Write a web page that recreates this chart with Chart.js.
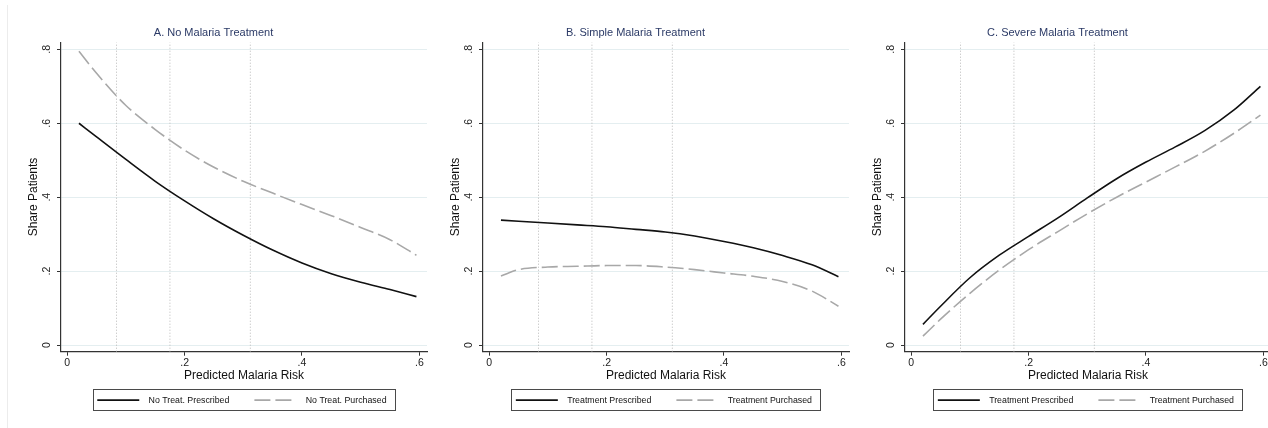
<!DOCTYPE html>
<html><head><meta charset="utf-8">
<script src="https://cdn.jsdelivr.net/npm/chart.js@4.4.1/dist/chart.umd.min.js"></script>
<style>
html,body{margin:0;padding:0;background:#fff;width:1268px;height:428px;overflow:hidden;}
#wrap{position:relative;width:1268px;height:428px;overflow:hidden;background:#fff;}
canvas{position:absolute;top:0;}
#frame{position:absolute;left:7px;top:5px;width:0;height:423px;border-left:1px solid #ececec;}
</style></head><body>
<div id="wrap">
<div id="frame"></div>
<canvas id="cA" width="488" height="428" style="left:0px"></canvas>
<canvas id="cB" width="488" height="428" style="left:422px"></canvas>
<canvas id="cC" width="488" height="428" style="left:844px"></canvas>
</div>
<script>
// ---- data ----
const riskGrid = [0.02, 0.05, 0.10, 0.15, 0.20, 0.25, 0.30, 0.35, 0.40, 0.45, 0.50, 0.55, 0.595];

const noTreatPrescribed = [0.600, 0.563, 0.502, 0.443, 0.390, 0.341, 0.297, 0.257, 0.222, 0.193, 0.170, 0.150, 0.131];
const noTreatPurchased  = [0.795, 0.735, 0.648, 0.583, 0.527, 0.481, 0.443, 0.411, 0.380, 0.350, 0.318, 0.285, 0.243];

const simplePrescribed  = [0.338, 0.335, 0.330, 0.325, 0.320, 0.313, 0.306, 0.295, 0.280, 0.263, 0.242, 0.217, 0.185];
const simplePurchased   = [0.187, 0.204, 0.211, 0.213, 0.215, 0.215, 0.211, 0.204, 0.195, 0.186, 0.172, 0.146, 0.105];

const severePrescribed  = [0.056, 0.105, 0.182, 0.243, 0.294, 0.344, 0.398, 0.450, 0.495, 0.536, 0.580, 0.636, 0.700];
const severePurchased   = [0.024, 0.070, 0.140, 0.203, 0.258, 0.307, 0.355, 0.400, 0.441, 0.482, 0.524, 0.573, 0.622];

const riskCutoffs = [0.084, 0.175, 0.312];
const xTickValues = [0, 0.2, 0.4, 0.6];
const yTickValues = [0, 0.2, 0.4, 0.6, 0.8];
const xRange = [-0.0106, 0.613];
const yRange = [-0.018, 0.819];

const panelTitles = ['A. No Malaria Treatment', 'B. Simple Malaria Treatment', 'C. Severe Malaria Treatment'];
const seriesLabels = [
  ['No Treat. Prescribed', 'No Treat. Purchased'],
  ['Treatment Prescribed', 'Treatment Purchased'],
  ['Treatment Prescribed', 'Treatment Purchased']
];
const xTitle = 'Predicted Malaria Risk';
const yTitle = 'Share Patients';

// ---- rendering ----
const FONT = '"Liberation Sans", Arial, Helvetica, sans-serif';
Chart.defaults.font.family = FONT;

const fmt = v => { if (Math.abs(v) < 1e-9) return '0'; return String(+(+v).toFixed(1)).replace(/^0\./, '.'); };

const boxedLegend = {
  id: 'boxedLegend',
  afterDraw(chart) {
    const ctx = chart.ctx, ca = chart.chartArea;
    const items = chart.data.datasets.filter(d => d.inLegend);
    const fs = 8.8;
    ctx.save();
    ctx.font = fs + 'px ' + FONT;
    const sw = 42, gapT = 9.3, gapI = 25, padL = 4.5, padR = 8.7;
    const widths = items.map(d => ctx.measureText(d.label).width);
    const total = padL + padR + items.length * (sw + gapT) + widths.reduce((a, b) => a + b, 0) + gapI * (items.length - 1);
    const cx = (ca.left + ca.right) / 2;
    const x0 = cx - total / 2, y0 = ca.bottom + 37.6, h = 20.7;
    ctx.strokeStyle = '#4a4a4a'; ctx.lineWidth = 1;
    ctx.strokeRect(Math.round(x0) + 0.5, Math.round(y0) + 0.5, Math.round(total), Math.round(h));
    let x = x0 + padL; const ym = y0 + h / 2 + 0.5;
    items.forEach((d, i) => {
      ctx.beginPath();
      ctx.setLineDash(d.borderDash || []);
      ctx.strokeStyle = d.borderColor; ctx.lineWidth = d.borderWidth;
      ctx.moveTo(x, ym); ctx.lineTo(x + sw, ym); ctx.stroke();
      ctx.setLineDash([]);
      x += sw + gapT;
      ctx.fillStyle = '#111'; ctx.textBaseline = 'middle'; ctx.textAlign = 'left';
      ctx.fillText(d.label, x, ym);
      x += widths[i] + gapI;
    });
    ctx.restore();
  }
};

function makePanel(id, title, labels, solid, dashed) {
  const datasets = [
    { label: labels[0], inLegend: true, data: riskGrid.map((x, i) => ({ x, y: solid[i] })),
      borderColor: '#111', borderWidth: 1.6, pointRadius: 0, cubicInterpolationMode: 'monotone', fill: false },
    { label: labels[1], inLegend: true, data: riskGrid.map((x, i) => ({ x, y: dashed[i] })),
      borderColor: '#a8a8a8', borderWidth: 1.6, borderDash: [16, 5], pointRadius: 0, cubicInterpolationMode: 'monotone', fill: false }
  ];
  riskCutoffs.forEach(c => datasets.push({
    label: 'cutoff', inLegend: false, data: [{ x: c, y: yRange[0] }, { x: c, y: yRange[1] }],
    borderColor: '#b8b8b8', borderWidth: 1, borderDash: [1, 2], pointRadius: 0, fill: false
  }));
  new Chart(document.getElementById(id), {
    type: 'line',
    data: { datasets },
    options: {
      responsive: false, animation: false, devicePixelRatio: 1,
      layout: { padding: { left: 0, right: 61, top: 0, bottom: 43 } },
      plugins: {
        legend: { display: false }, tooltip: { enabled: false },
        title: { display: true, text: title, color: '#2b3a66', font: { size: 11, weight: 'normal' }, padding: { top: 26.7, bottom: 2.4 } }
      },
      scales: {
        x: {
          type: 'linear', min: xRange[0], max: xRange[1],
          afterBuildTicks: s => { s.ticks = xTickValues.map(v => ({ value: v })); },
          afterFit: s => { s.height = 33.3; },
          ticks: { callback: fmt, minRotation: 0, maxRotation: 0, padding: 1, color: '#222', font: { size: 10.5 } },
          grid: { drawOnChartArea: false, drawTicks: true, tickLength: 4, tickColor: '#333', tickWidth: 1 },
          border: { display: true, color: '#333', width: 1.2 },
          title: { display: true, text: xTitle, color: '#111', font: { size: 12 }, padding: { top: 0, bottom: 2.1 } }
        },
        y: {
          type: 'linear', min: yRange[0], max: yRange[1],
          afterBuildTicks: s => { s.ticks = yTickValues.map(v => ({ value: v })); },
          afterFit: s => { s.width = 61; },
          ticks: { callback: fmt, minRotation: 90, maxRotation: 90, crossAlign: 'center', padding: 5.5, color: '#222', font: { size: 10.5 } },
          grid: { color: '#e4eef0', lineWidth: 1, drawTicks: true, tickLength: 4, tickColor: '#333', tickWidth: 1 },
          border: { display: true, color: '#333', width: 1.2 },
          title: { display: true, text: yTitle, color: '#111', font: { size: 12 }, padding: { top: 26.1, bottom: 0 } }
        }
      }
    },
    plugins: [boxedLegend]
  });
}

makePanel('cA', panelTitles[0], seriesLabels[0], noTreatPrescribed, noTreatPurchased);
makePanel('cB', panelTitles[1], seriesLabels[1], simplePrescribed, simplePurchased);
makePanel('cC', panelTitles[2], seriesLabels[2], severePrescribed, severePurchased);
</script>
</body></html>
